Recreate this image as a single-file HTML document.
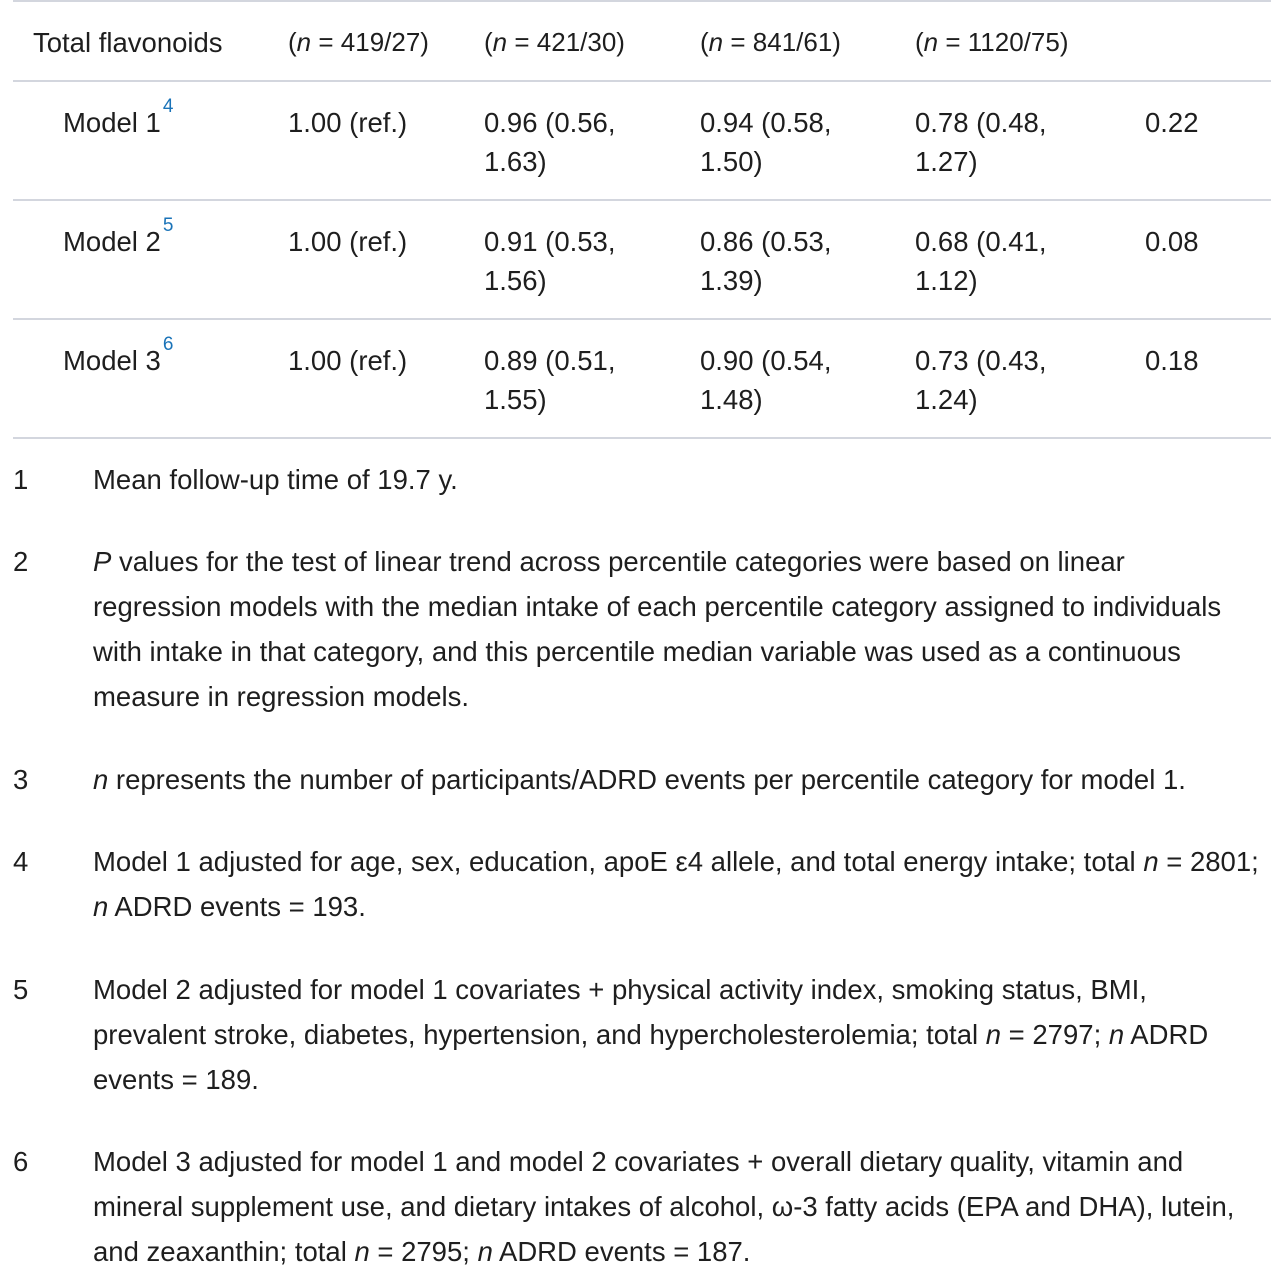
<!DOCTYPE html>
<html><head><meta charset="utf-8"><style>
body{margin:0;width:1278px;height:1272px;background:#fff;position:relative;overflow:hidden;font-family:"Liberation Sans",sans-serif;color:#1e1e1e;font-size:27.5px}
.t{position:absolute;white-space:nowrap;line-height:39px}
.hr{position:absolute;left:13px;width:1258px;height:2px;background:#d3d6de}
sup{color:#1a73b8;font-size:19px;position:relative;top:-6px;vertical-align:top;line-height:1;margin-left:2px}
.fn{position:absolute;left:93px;width:1180px;line-height:45px;white-space:nowrap}
.num{position:absolute;left:13px;line-height:45px}
.c{font-size:26px}
</style></head><body>
<div class="hr" style="top:0"></div>
<div class="t" style="left:33px;top:23px">Total flavonoids</div>
<div class="t c" style="left:288px;top:23px">(<i>n</i> = 419/27)</div>
<div class="t c" style="left:484px;top:23px">(<i>n</i> = 421/30)</div>
<div class="t c" style="left:700px;top:23px">(<i>n</i> = 841/61)</div>
<div class="t c" style="left:915px;top:23px">(<i>n</i> = 1120/75)</div>
<div class="hr" style="top:80px"></div>

<div class="t" style="left:63px;top:103px">Model 1<sup>4</sup></div>
<div class="t" style="left:288px;top:103px">1.00 (ref.)</div>
<div class="t" style="left:484px;top:103px">0.96 (0.56,<br>1.63)</div>
<div class="t" style="left:700px;top:103px">0.94 (0.58,<br>1.50)</div>
<div class="t" style="left:915px;top:103px">0.78 (0.48,<br>1.27)</div>
<div class="t" style="left:1145px;top:103px">0.22</div>
<div class="hr" style="top:199px"></div>

<div class="t" style="left:63px;top:222px">Model 2<sup>5</sup></div>
<div class="t" style="left:288px;top:222px">1.00 (ref.)</div>
<div class="t" style="left:484px;top:222px">0.91 (0.53,<br>1.56)</div>
<div class="t" style="left:700px;top:222px">0.86 (0.53,<br>1.39)</div>
<div class="t" style="left:915px;top:222px">0.68 (0.41,<br>1.12)</div>
<div class="t" style="left:1145px;top:222px">0.08</div>
<div class="hr" style="top:318px"></div>

<div class="t" style="left:63px;top:341px">Model 3<sup>6</sup></div>
<div class="t" style="left:288px;top:341px">1.00 (ref.)</div>
<div class="t" style="left:484px;top:341px">0.89 (0.51,<br>1.55)</div>
<div class="t" style="left:700px;top:341px">0.90 (0.54,<br>1.48)</div>
<div class="t" style="left:915px;top:341px">0.73 (0.43,<br>1.24)</div>
<div class="t" style="left:1145px;top:341px">0.18</div>
<div class="hr" style="top:437px"></div>

<div class="num" style="top:457px">1</div>
<div class="fn" style="top:457px">Mean follow-up time of 19.7 y.</div>
<div class="num" style="top:539px">2</div>
<div class="fn" style="top:539px"><i>P</i> values for the test of linear trend across percentile categories were based on linear<br>regression models with the median intake of each percentile category assigned to individuals<br>with intake in that category, and this percentile median variable was used as a continuous<br>measure in regression models.</div>
<div class="num" style="top:757px">3</div>
<div class="fn" style="top:757px"><i>n</i> represents the number of participants/ADRD events per percentile category for model 1.</div>
<div class="num" style="top:839px">4</div>
<div class="fn" style="top:839px">Model 1 adjusted for age, sex, education, apoE ε4 allele, and total energy intake; total <i>n</i> = 2801;<br><i>n</i> ADRD events = 193.</div>
<div class="num" style="top:967px">5</div>
<div class="fn" style="top:967px">Model 2 adjusted for model 1 covariates + physical activity index, smoking status, BMI,<br>prevalent stroke, diabetes, hypertension, and hypercholesterolemia; total <i>n</i> = 2797; <i>n</i> ADRD<br>events = 189.</div>
<div class="num" style="top:1139px">6</div>
<div class="fn" style="top:1139px">Model 3 adjusted for model 1 and model 2 covariates + overall dietary quality, vitamin and<br>mineral supplement use, and dietary intakes of alcohol, ω-3 fatty acids (EPA and DHA), lutein,<br>and zeaxanthin; total <i>n</i> = 2795; <i>n</i> ADRD events = 187.</div>
</body></html>
